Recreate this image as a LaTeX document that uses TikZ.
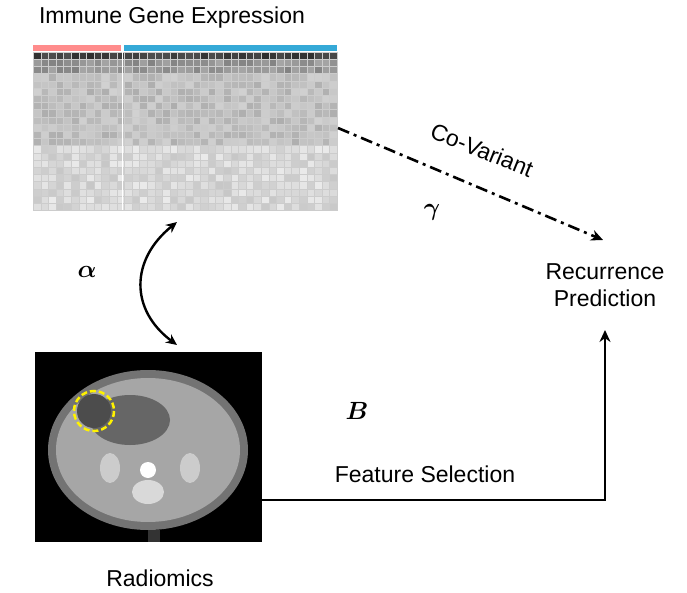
\documentclass[tikz,border=0pt]{standalone}
\usepackage{amsmath}
\usepackage{bm}
\usepackage{fontspec}
\setmainfont{Liberation Sans}
\usetikzlibrary{arrows.meta}
\begin{document}
\begin{tikzpicture}[x=1pt,y=-1pt,
  lbl/.style={font=\fontsize{23}{27}\selectfont},
  greek/.style={font=\fontsize{32}{34}\selectfont},
  conn/.style={line width=2.6pt,-{Stealth[length=12pt,width=11pt]}}]
\useasboundingbox (0,0) rectangle (687,593);
\pgfmathsetseed{7}
% heatmap
\foreach \r in {0,...,21}{
  \foreach \c in {0,...,39}{
    \pgfmathsetmacro{\base}{\r==0 ? 75 : (\r<3 ? 42 : (\r<13 ? 25 : 15))}
    \pgfmathsetmacro{\v}{min(95,max(3,\base+rnd*14-7))}
    \fill[black!\v!white,draw=white!80!black,line width=0.2pt] ({33+\c*7.6},{52+\r*7.2}) rectangle ++(7.6,7.2);
  }
}
\fill[white] (121.5,52) rectangle (123,210);
\fill[red!45!white] (33,45) rectangle (121,51);
\fill[cyan!70!teal!90!white] (124,45) rectangle (337,51);
\node[lbl] (title) at (172,18) {Immune Gene Expression};
\coordinate (hm) at (338,128);
% CT image
\fill[black] (35,352) rectangle (262,542);
\fill[black!55] (148,450) ellipse (100 and 80);
\fill[black!35] (148,450) ellipse (92 and 72);
\fill[black!60] (130,420) ellipse (40 and 25);
\fill[black!80] (148,530) rectangle (160,542);
\fill[white!85!black] (148,492) ellipse (16 and 12);
\fill[white] (148,470) circle (8);
\fill[black!20] (110,468) ellipse (10 and 15);
\fill[black!20] (190,468) ellipse (10 and 15);
\fill[black!70] (94,411) circle (17);
\draw[yellow,line width=2.5pt,dash pattern=on 6pt off 3pt] (94,411) circle (20);
\node[lbl] (rad) at (160,578) {Radiomics};
\coordinate (ct) at (262,500);
% arrows
\draw[line width=2.4pt,{Stealth[length=11pt,width=10pt]}-{Stealth[length=11pt,width=10pt]}] (177,222) .. controls (130,260) and (130,310) .. (177,345);
\node[greek] (alpha) at (87,272) {$\bm{\alpha}$};
\node[lbl,align=center] (rec) at (605,285) {Recurrence\\Prediction};
\draw[conn,dash pattern=on 12pt off 5pt on 3pt off 5pt] (hm) -- (603,240);
\node[lbl,rotate=-22] (cov) at (482,150) {Co-Variant};
\node[greek] (gam) at (432,212) {$\bm{\gamma}$};
\draw[conn] (ct) -- (605,500) -- (605,330);
\node[greek] (b) at (357,411) {$\bm{B}$};
\node[lbl] (fs) at (425,474) {Feature Selection};
\end{tikzpicture}
\end{document}
